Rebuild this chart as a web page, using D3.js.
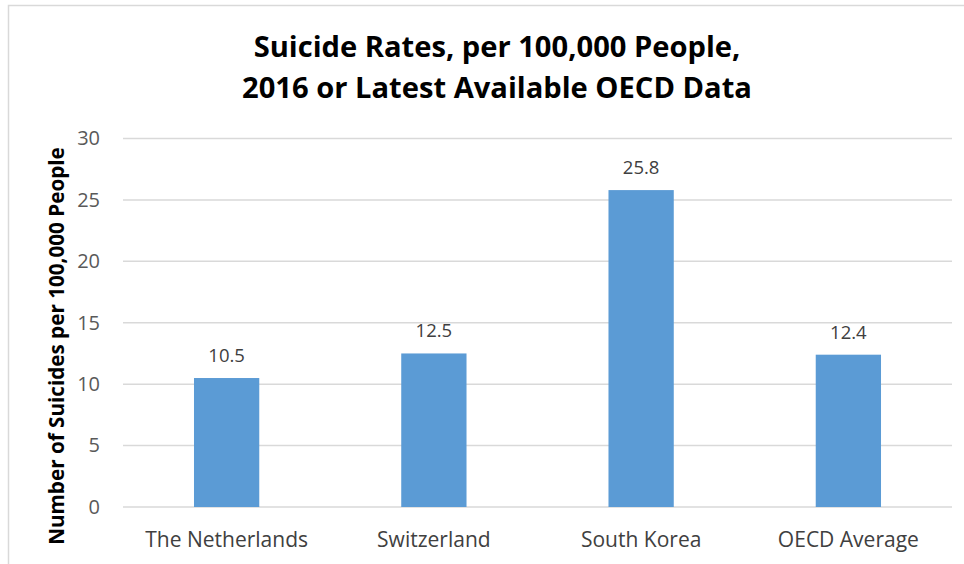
<!DOCTYPE html>
<html><head><meta charset="utf-8">
<script src="https://cdn.jsdelivr.net/npm/d3@7"></script>
<style>body{margin:0;background:#fff}svg{display:block}</style>
</head><body>
<script>
const categories = ["The Netherlands", "Switzerland", "South Korea", "OECD Average"];
const values = [10.5, 12.5, 25.8, 12.4];
const yTicks = [0, 5, 10, 15, 20, 25, 30];
const titleLines = ["Suicide Rates, per 100,000 People,", "2016 or Latest Available OECD Data"];
const yTitle = "Number of Suicides per 100,000 People";

(function () {
const W = 964, H = 564;
const svg = d3.select("body").append("svg").attr("width", W).attr("height", H);
const font = "'Open Sans', Lato, sans-serif";

// size a text selection so its first node spans the target width
function fit(sel, target) {
  const n = sel.node();
  const base = 20;
  sel.attr("font-size", base);
  const w = n.getComputedTextLength();
  return base * target / w;
}

svg.append("rect").attr("x", 8.5).attr("y", 5.5).attr("width", W + 10).attr("height", H + 10)
  .attr("fill", "#fff").attr("stroke", "#d9d9d9").attr("stroke-width", 1.5);

const pLeft = 123, pRight = 952, pTop = 138.5, pBottom = 507;
const x = d3.scaleBand().domain(categories).range([pLeft, pRight]).padding(0);
const y = d3.scaleLinear().domain([0, 30]).range([pBottom, pTop]);

svg.append("g").selectAll("line").data(yTicks).join("line")
  .attr("x1", pLeft).attr("x2", pRight)
  .attr("y1", d => y(d)).attr("y2", d => y(d))
  .attr("stroke", "#d9d9d9").attr("stroke-width", 1.5);

const yAxis = d3.axisLeft(y).tickValues(yTicks).tickSize(0).tickPadding(23);
const ya = svg.append("g").attr("transform", `translate(${pLeft},0)`).call(yAxis);
ya.select(".domain").remove();
ya.selectAll("text").attr("font-family", font).attr("font-size", 20).attr("fill", "#595959");

const bw = x.bandwidth() * 0.315;
svg.append("g").selectAll("rect").data(values).join("rect")
  .attr("x", (d, i) => x(categories[i]) + x.bandwidth() / 2 - bw / 2)
  .attr("width", bw)
  .attr("y", d => y(d)).attr("height", d => y(0) - y(d))
  .attr("fill", "#5B9BD5");

svg.append("g").selectAll("text").data(values).join("text")
  .attr("x", (d, i) => x(categories[i]) + x.bandwidth() / 2)
  .attr("y", d => y(d) - 16)
  .attr("text-anchor", "middle")
  .attr("font-family", font).attr("font-size", 18.5).attr("fill", "#404040")
  .text(d => d.toFixed(1));

const xAxis = d3.axisBottom(x).tickSize(0).tickPadding(0);
const xa = svg.append("g").attr("transform", `translate(0,${pBottom})`).call(xAxis);
xa.select(".domain").remove();
const xt = xa.selectAll("text").attr("font-family", font).attr("fill", "#404040").attr("dy", null).attr("y", 40);
const xs = fit(d3.select(xt.nodes()[0]), 163);
xt.attr("font-size", xs);

const tt = svg.append("g").selectAll("text").data(titleLines).join("text")
  .attr("x", 497).attr("y", (d, i) => 57 + i * 41)
  .attr("text-anchor", "middle")
  .attr("font-family", font).attr("font-weight", "bold").attr("fill", "#000")
  .text(d => d);
const ts = fit(d3.select(tt.nodes()[0]), 487);
tt.attr("font-size", ts);

const yt = svg.append("text")
  .attr("transform", `translate(64,346) rotate(-90)`)
  .attr("text-anchor", "middle")
  .attr("font-family", font).attr("font-weight", "bold").attr("fill", "#000")
  .text(yTitle);
yt.attr("font-size", fit(yt, 398));
})();
</script>
</body></html>
